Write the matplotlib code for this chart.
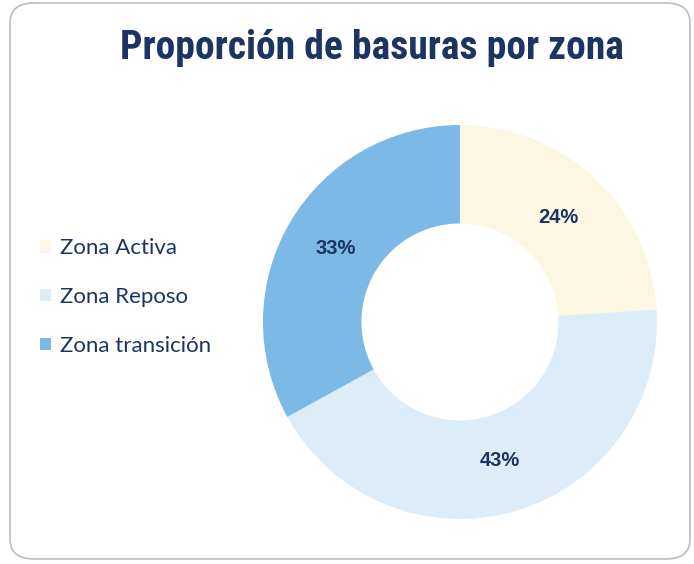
import matplotlib
matplotlib.use("Agg")
import matplotlib.pyplot as plt
from matplotlib import font_manager
from matplotlib.patches import FancyBboxPatch, Patch

categories = ["Zona Activa", "Zona Reposo", "Zona transición"]
values = [24, 43, 33]
colors = ["#FBF7E3", "#DDECF9", "#7DB9E6"]
title = "Proporción de basuras por zona"

names = {f.name for f in font_manager.fontManager.ttflist}
def pick(prefs):
    for p in prefs:
        if p in names:
            return p
    return "DejaVu Sans"
narrow = pick(["Roboto Condensed", "Archivo Narrow", "Barlow Semi Condensed"])
body = pick(["Aptos", "Lato", "Open Sans"])
lab = pick(["Liberation Sans", "Arimo", "DejaVu Sans"])
navy = "#1C3461"

fig = plt.figure(figsize=(6.94, 5.64), dpi=100)
fig.patch.set_facecolor("white")

frame = FancyBboxPatch((10/694, 5/564), 680/694, 556/564,
                       boxstyle="round,pad=0,rounding_size=0.035",
                       transform=fig.transFigure, facecolor="none",
                       edgecolor="#BDBDBD", linewidth=1.2, zorder=5)
fig.patches.append(frame)

ax = fig.add_axes([0.3789, 0.0798, 0.5677, 0.6986])
wedges, _, autotexts = ax.pie(values, colors=colors, startangle=90, counterclock=False,
                              autopct="%1.0f%%", pctdistance=0.73,
                              wedgeprops=dict(width=0.5, edgecolor="none"),
                              textprops=dict(color=navy, fontsize=14.5, fontweight="bold",
                                             family=lab))
ax.set_xlim(-1, 1)
ax.set_ylim(-1, 1)
ax.set_aspect("equal")
ax.axis("off")

fig.text(372/694, 1 - 48/564, title, ha="center", va="center",
         fontsize=28.5, fontweight="bold", color=navy, family=narrow)

handles = [Patch(facecolor=c, edgecolor="none") for c in colors]
leg = fig.legend(handles, categories, loc="center left",
                 bbox_to_anchor=(24/694, 1 - 297/564), frameon=False,
                 prop=dict(family=body, size=16), labelcolor=navy,
                 handlelength=0.5, handleheight=0.5, handletextpad=0.4,
                 labelspacing=1.3, borderpad=0.2)

fig.savefig("out.png", dpi=100)
